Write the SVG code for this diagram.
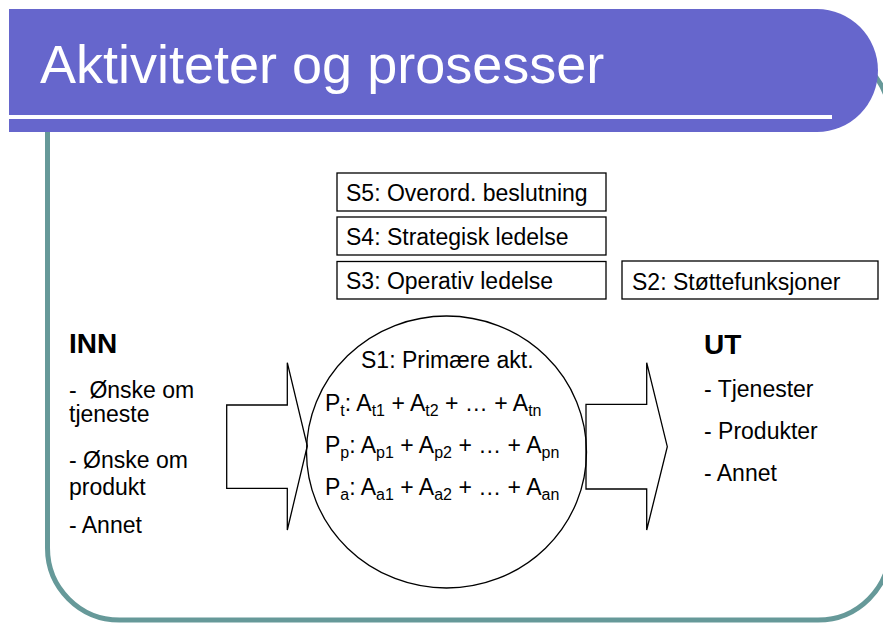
<svg xmlns="http://www.w3.org/2000/svg" width="883" height="624" viewBox="0 0 883 624">
  <style>
    text { font-family: "Liberation Sans", Arial, sans-serif; fill: #000; }
    .t { font-size: 23px; }
    .h { font-size: 28px; font-weight: bold; }
    .title { font-size: 54px; fill: #fff; }
    .box { fill: #fff; stroke: #000; stroke-width: 1.3; }
    .shape { fill: none; stroke: #000; stroke-width: 1.3; stroke-linejoin: miter; }
    .sub { font-size: 16px; }
  </style>

  <!-- slide frame -->
  <g id="frame">
    <path d="M47.5 132 V548 A72 72 0 0 0 119.5 620 H818 A72 72 0 0 0 890 548 V120 A72 72 0 0 0 818 48 H47.5"
          fill="none" stroke="#669999" stroke-width="5"/>
  </g>

  <!-- title band -->
  <g id="header">
    <path d="M9 9 H817 A61 61.5 0 0 1 817 132 H9 Z" fill="#6666CC"/>
    <rect x="9" y="115" width="823" height="4" fill="#fff"/>
    <text class="title" x="40" y="83">Aktiviteter og prosesser</text>
  </g>

  <!-- level boxes -->
  <g id="s5">
    <rect class="box" x="337" y="173" width="269" height="38"/>
    <text class="t" x="346" y="201">S5: Overord. beslutning</text>
  </g>
  <g id="s4">
    <rect class="box" x="337" y="217" width="269" height="38"/>
    <text class="t" x="346" y="245">S4: Strategisk ledelse</text>
  </g>
  <g id="s3">
    <rect class="box" x="337" y="261.5" width="269" height="37.5"/>
    <text class="t" x="346" y="289">S3: Operativ ledelse</text>
  </g>
  <g id="s2">
    <rect class="box" x="622" y="261" width="256" height="38"/>
    <text class="t" x="632" y="290">S2: Støttefunksjoner</text>
  </g>

  <!-- input / output block arrows -->
  <g id="connectors">
    <polygon class="shape" points="226.7,405 287.3,405 287.3,362.7 307.3,446 287.3,530 287.3,488.3 226.7,488.3"/>
    <polygon class="shape" points="586,404.3 646.7,404.3 646.7,362.7 667.3,446.7 646.7,530 646.7,489 586,489"/>
  </g>

  <!-- primary activities -->
  <g id="s1">
    <ellipse class="shape" cx="446.5" cy="452" rx="140" ry="136"/>
    <text class="t" x="361" y="368">S1: Primære akt.</text>
    <text class="t" x="325" y="411">P<tspan class="sub" dy="5">t</tspan><tspan dy="-5">: A</tspan><tspan class="sub" dy="5">t1</tspan><tspan dy="-5"> + A</tspan><tspan class="sub" dy="5">t2</tspan><tspan dy="-5"> + … + A</tspan><tspan class="sub" dy="5">tn</tspan></text>
    <text class="t" x="325" y="453">P<tspan class="sub" dy="5">p</tspan><tspan dy="-5">: A</tspan><tspan class="sub" dy="5">p1</tspan><tspan dy="-5"> + A</tspan><tspan class="sub" dy="5">p2</tspan><tspan dy="-5"> + … + A</tspan><tspan class="sub" dy="5">pn</tspan></text>
    <text class="t" x="325" y="495">P<tspan class="sub" dy="5">a</tspan><tspan dy="-5">: A</tspan><tspan class="sub" dy="5">a1</tspan><tspan dy="-5"> + A</tspan><tspan class="sub" dy="5">a2</tspan><tspan dy="-5"> + … + A</tspan><tspan class="sub" dy="5">an</tspan></text>
  </g>

  <!-- input list -->
  <g id="inn">
    <text class="h" x="69" y="353">INN</text>
    <text class="t" x="69" y="398" xml:space="preserve">-  Ønske om</text>
    <text class="t" x="69" y="422">tjeneste</text>
    <text class="t" x="69" y="468">- Ønske om</text>
    <text class="t" x="69" y="495">produkt</text>
    <text class="t" x="69" y="533">- Annet</text>
  </g>

  <!-- output list -->
  <g id="ut">
    <text class="h" x="704" y="354">UT</text>
    <text class="t" x="704" y="397">- Tjenester</text>
    <text class="t" x="704" y="439">- Produkter</text>
    <text class="t" x="704" y="481">- Annet</text>
  </g>
</svg>
